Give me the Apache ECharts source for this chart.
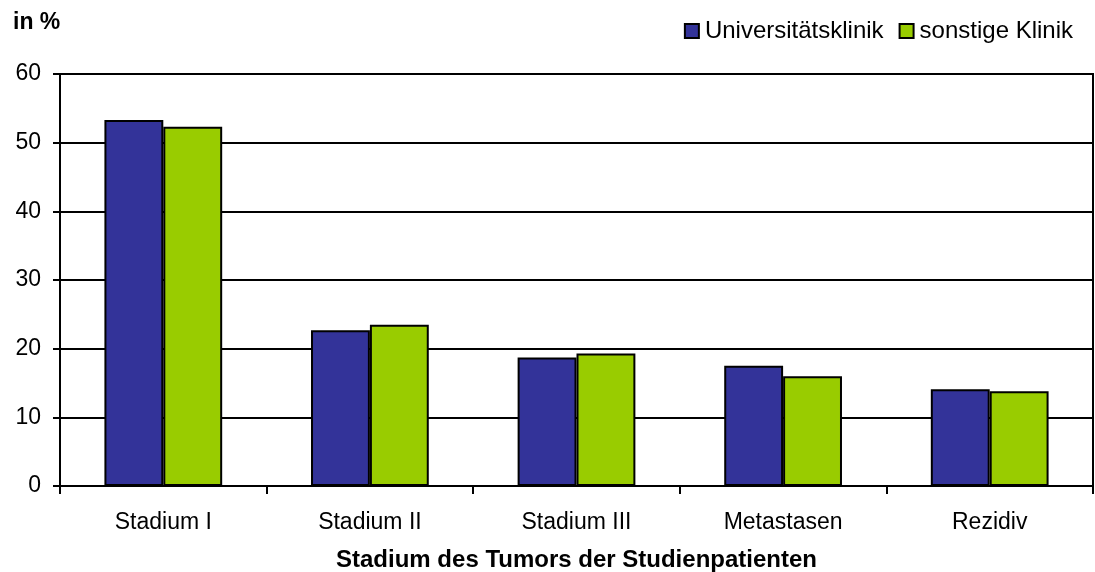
<!DOCTYPE html>
<html>
<head>
<meta charset="utf-8">
<script src="https://cdn.jsdelivr.net/npm/echarts@6/dist/echarts.min.js"></script>
<style>html,body{margin:0;padding:0;background:#fff}#c{width:1095px;height:572px}</style>
</head>
<body>
<div id="c"></div>
<script>
const categories = ['Stadium I', 'Stadium II', 'Stadium III', 'Metastasen', 'Rezidiv'];
const seriesNames = ['Universitätsklinik', 'sonstige Klinik'];
const uniValues = [53.3, 22.7, 18.7, 17.5, 14.1];
const otherValues = [52.3, 23.5, 19.3, 16.0, 13.8];
const yTicks = [0, 10, 20, 30, 40, 50, 60];

const FONT = '"Liberation Sans", Arial, sans-serif';
const chart = echarts.init(document.getElementById('c'), null, {renderer: 'canvas'});
chart.setOption({
  animation: false,
  backgroundColor: '#ffffff',
  textStyle: {fontFamily: FONT, color: '#000'},
  title: {
    text: 'in %', left: 13, top: 11, padding: 0,
    textStyle: {fontFamily: FONT, fontSize: 23, fontWeight: 'bold', color: '#000'}
  },
  legend: {
    right: 22, top: 19, padding: 0,
    icon: 'rect',
    itemWidth: 14, itemHeight: 14, itemGap: 15,
    textStyle: {fontFamily: FONT, fontSize: 24, color: '#000', padding: [0, 0, 0, 1]},
    data: seriesNames
  },
  grid: {
    left: 60, right: 2, top: 74, bottom: 86,
    containLabel: false, outerBoundsMode: 'none',
    show: true, borderColor: '#000', borderWidth: 2, backgroundColor: 'transparent'
  },
  xAxis: {
    type: 'category', data: categories,
    axisLine: {lineStyle: {color: '#000', width: 2}},
    axisTick: {show: true, length: 8, lineStyle: {color: '#000', width: 2}},
    axisLabel: {fontFamily: FONT, fontSize: 23, color: '#000', margin: 25},
    name: 'Stadium des Tumors der Studienpatienten',
    nameLocation: 'middle', nameGap: 62,
    nameTextStyle: {fontFamily: FONT, fontSize: 24, fontWeight: 'bold', color: '#000'}
  },
  yAxis: {
    type: 'value', min: yTicks[0], max: yTicks[yTicks.length - 1], interval: 10,
    axisLine: {show: true, lineStyle: {color: '#000', width: 2}},
    axisTick: {show: true, length: 7, lineStyle: {color: '#000', width: 2}},
    axisLabel: {fontFamily: FONT, fontSize: 23, color: '#000', margin: 19},
    splitLine: {show: true, lineStyle: {color: '#000', width: 2}}
  },
  series: [
    {
      name: seriesNames[0], type: 'bar', data: uniValues,
      barGap: '0%', barCategoryGap: '43%',
      itemStyle: {color: '#333399', borderColor: '#000', borderWidth: 2}
    },
    {
      name: seriesNames[1], type: 'bar', data: otherValues,
      barGap: '0%', barCategoryGap: '43%',
      itemStyle: {color: '#99cc00', borderColor: '#000', borderWidth: 2}
    }
  ]
});
</script>
</body>
</html>
